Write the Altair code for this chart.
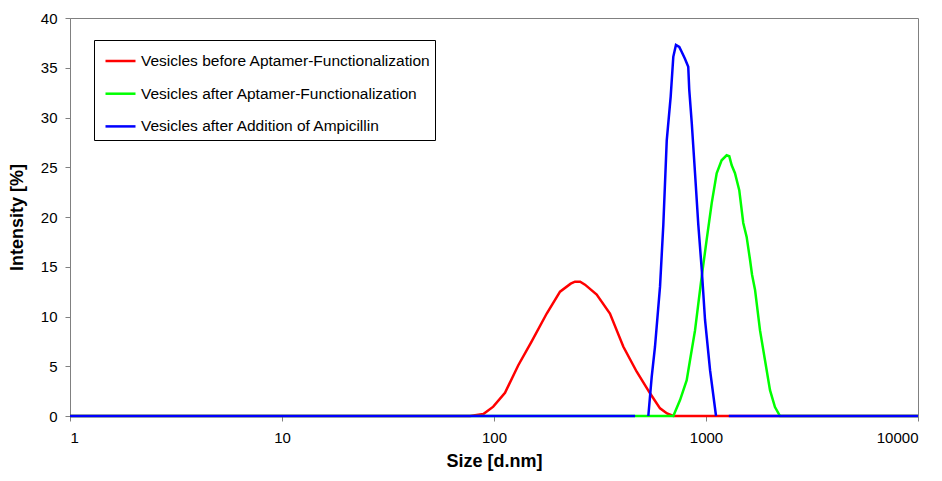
import altair as alt
import pandas as pd

# ---- data ----
series_names = [
    "Vesicles before Aptamer-Functionalization",
    "Vesicles after Aptamer-Functionalization",
    "Vesicles after Addition of Ampicillin",
]
series_colors = ["#FF0000", "#00FF00", "#0000FF"]

red_size = [1, 77.1, 89.1, 99.2, 112.7, 130.2, 150.6, 177.3, 204.9, 230, 241.0, 255,
            268.7, 305.1, 352.3, 407.6, 471.2, 544.5, 607.0, 655, 701.4, 1281, 10000]
red_value = [0, 0, 0.2, 0.94, 2.34, 5.1, 7.5, 10.3, 12.5, 13.3, 13.5, 13.5,
             13.2, 12.2, 10.3, 6.96, 4.45, 2.28, 0.77, 0.25, 0, 0, 0]

green_size = [1, 701.4, 754.3, 811, 840.6, 887.7, 920.1, 954.4, 1007, 1064, 1123, 1185,
              1251, 1288, 1322, 1370, 1435, 1499, 1555, 1613, 1649, 1703, 1798, 1898,
              2004, 2115, 2234, 10000]
green_value = [0, 0, 1.6, 3.6, 5.6, 8.6, 11.3, 14.0, 17.7, 21.4, 24.4, 25.7,
               26.2, 26.1, 25.2, 24.4, 22.7, 19.4, 18.0, 15.7, 14.2, 12.7, 8.6, 5.6,
               2.6, 0.9, 0, 0]

blue_size = [1, 463,
             534.5, 554.6, 574.7, 606.9, 629, 652.9, 681.4, 701, 721.5, 748, 767.6,
             795.6, 824.6, 833.6, 857, 887.7, 920, 955, 989.6, 1045, 1115,
             1281, 10000]
blue_value = [0, 0,
              0, 3.95, 6.96, 13.0, 19.2, 27.7, 32.1, 36.1, 37.3, 37.1, 36.6,
              35.9, 35.1, 32.8, 29.4, 24.4, 19.2, 14.7, 9.65, 4.6, 0,
              0, 0]
blue_segment = [0, 0] + [1] * 21 + [2, 2]

rows = []
for s, v in zip(red_size, red_value):
    rows.append({"size": s, "value": v, "series": series_names[0], "seg": "a_r0"})
for s, v in zip(green_size, green_value):
    rows.append({"size": s, "value": v, "series": series_names[1], "seg": "b_g0"})
for s, v, g in zip(blue_size, blue_value, blue_segment):
    rows.append({"size": s, "value": v, "series": series_names[2], "seg": f"c_b{g}"})
df = pd.DataFrame(rows)

FONT = "Liberation Sans"
GRAY = "#808080"

lines = alt.Chart(df).mark_line(strokeWidth=2.5).encode(
    x=alt.X("size:Q",
            scale=alt.Scale(type="log", domain=[1, 10000], nice=False),
            axis=alt.Axis(values=[1, 10, 100, 1000, 10000], format="d",
                          title="Size [d.nm]", grid=False,
                          tickSize=5, labelPadding=9, titlePadding=7)),
    y=alt.Y("value:Q",
            scale=alt.Scale(domain=[0, 40], nice=False),
            axis=alt.Axis(values=list(range(0, 45, 5)), title="Intensity [%]",
                          grid=False, tickSize=5, labelPadding=8, titlePadding=14)),
    color=alt.Color("series:N",
                    scale=alt.Scale(domain=series_names, range=series_colors),
                    legend=alt.Legend(title=None, orient="none", legendX=24, legendY=22,
                                      symbolType="stroke", symbolSize=900,
                                      symbolStrokeWidth=2.5, symbolOffset=5.5,
                                      labelFontSize=15.5,
                                      labelFont=FONT, labelColor="#000000",
                                      labelOffset=4, rowPadding=7.7, padding=4.5,
                                      strokeColor="#000000", fillColor="#FFFFFF",
                                      labelLimit=400)),
    detail="seg:N",
)

chart = lines.properties(
    width=848,
    height=398,
    autosize=alt.AutoSizeParams(type="none"),
    padding={"left": 62, "top": 10, "right": 16, "bottom": 57},
).configure_view(
    stroke=GRAY, strokeWidth=1
).configure_axis(
    domainColor=GRAY, tickColor=GRAY, labelFont=FONT, titleFont=FONT,
    labelFontSize=15, titleFontSize=18, labelColor="#000000", titleColor="#000000",
    titleFontWeight="bold"
)

chart.save("out.html", embed_options={"renderer": "svg", "actions": False})
